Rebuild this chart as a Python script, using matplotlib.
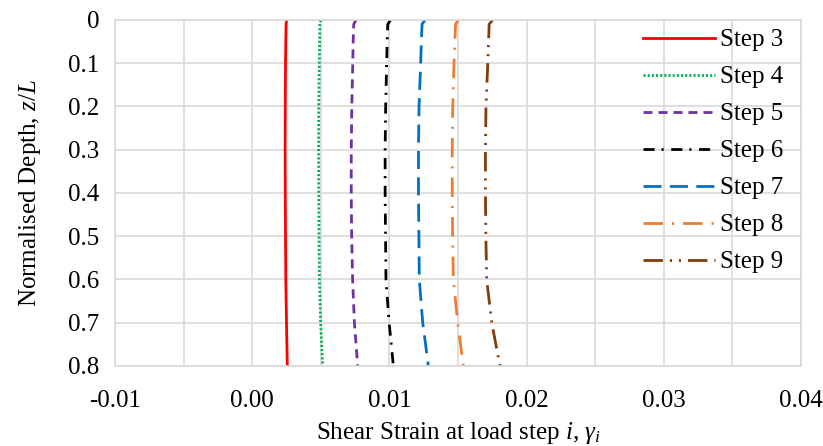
import matplotlib
matplotlib.use("Agg")
import matplotlib.pyplot as plt

plt.rcParams["font.family"] = ["Liberation Serif", "DejaVu Serif"]
plt.rcParams["mathtext.fontset"] = "custom"
plt.rcParams["mathtext.rm"] = "Liberation Serif"
plt.rcParams["mathtext.it"] = "Liberation Serif:italic"
plt.rcParams["lines.scale_dashes"] = False

# ─── Data ───
depth = [0, 0.01, 0.05, 0.1, 0.2, 0.3, 0.4, 0.5, 0.6, 0.7, 0.8]
step3 = [0.00252, 0.00247, 0.00245, 0.00243, 0.00241, 0.00240, 0.00241, 0.00243, 0.00245, 0.00250, 0.00256]
step4 = [0.00499, 0.00493, 0.00491, 0.00489, 0.00485, 0.00484, 0.00485, 0.00487, 0.00490, 0.00499, 0.00514]
step5 = [0.00757, 0.00740, 0.00736, 0.00733, 0.00726, 0.00722, 0.00722, 0.00725, 0.00732, 0.00745, 0.00769]
step6 = [0.01008, 0.00988, 0.00984, 0.00980, 0.00973, 0.00969, 0.00969, 0.00972, 0.00975, 0.00998, 0.01029]
step7 = [0.01260, 0.01238, 0.01233, 0.01228, 0.01216, 0.01212, 0.01212, 0.01215, 0.01218, 0.01243, 0.01284]
step8 = [0.01502, 0.01482, 0.01477, 0.01471, 0.01462, 0.01458, 0.01458, 0.01461, 0.01466, 0.01498, 0.01539]
step9 = [0.01753, 0.01727, 0.01723, 0.01717, 0.01704, 0.01700, 0.01700, 0.01703, 0.01709, 0.01746, 0.01806]
labels = ["Step 3", "Step 4", "Step 5", "Step 6", "Step 7", "Step 8", "Step 9"]
xticks = [-0.01, 0.0, 0.01, 0.02, 0.03, 0.04]
xtick_labels = ["-0.01", "0.00", "0.01", "0.02", "0.03", "0.04"]
yticks = [0, 0.1, 0.2, 0.3, 0.4, 0.5, 0.6, 0.7, 0.8]
ytick_labels = ["0", "0.1", "0.2", "0.3", "0.4", "0.5", "0.6", "0.7", "0.8"]

series = [step3, step4, step5, step6, step7, step8, step9]
colors = ["#FF0000", "#00B050", "#7030A0", "#000000", "#0070C0", "#ED7D31", "#843C0C"]
styles = [
    "-",
    (0, (1.5, 1.5)),
    (0, (6.5, 4.3)),
    (0, (8, 5, 1.5, 5.5)),
    (0, (13, 6)),
    (0, (14, 6.5, 1.5, 6.5)),
    (0, (14, 5, 1.5, 5, 1.5, 5)),
]

fig = plt.figure(figsize=(8.23, 4.46), dpi=100)
ax = fig.add_axes([0.1397, 0.1794, 0.8336, 0.7758])

for vals, lab, c, ls in zip(series, labels, colors, styles):
    ax.plot(vals, depth, color=c, linestyle=ls, lw=2, label=lab)

ax.set_xlim(-0.01, 0.04)
ax.set_ylim(0.8, 0)
ax.set_xticks(xticks)
ax.set_xticklabels(xtick_labels)
ax.set_yticks(yticks)
ax.set_yticklabels(ytick_labels)
ax.set_xticks([-0.005 + 0.01 * k for k in range(5)], minor=True)
ax.grid(True, which="both", color="#D9D9D9", lw=1.2)
ax.set_axisbelow(True)
ax.tick_params(which="both", length=0, labelsize=18)
ax.tick_params(axis="x", pad=17)
ax.tick_params(axis="y", pad=11)
for s in ax.spines.values():
    s.set_color("#D9D9D9")
    s.set_linewidth(1.2)

ax.set_xlabel("Shear Strain at load step $i$, $\\gamma_i$", fontsize=18, labelpad=6)
ax.set_ylabel("Normalised Depth, $z/L$", fontsize=18, labelpad=18)

ax.legend(loc="upper right", bbox_to_anchor=(1.0, 1.025), frameon=False, fontsize=18,
          handlelength=2.9, handletextpad=0.2, labelspacing=0.58, borderaxespad=0.3)

plt.savefig("out.png", dpi=100, facecolor="white")
plt.close()
